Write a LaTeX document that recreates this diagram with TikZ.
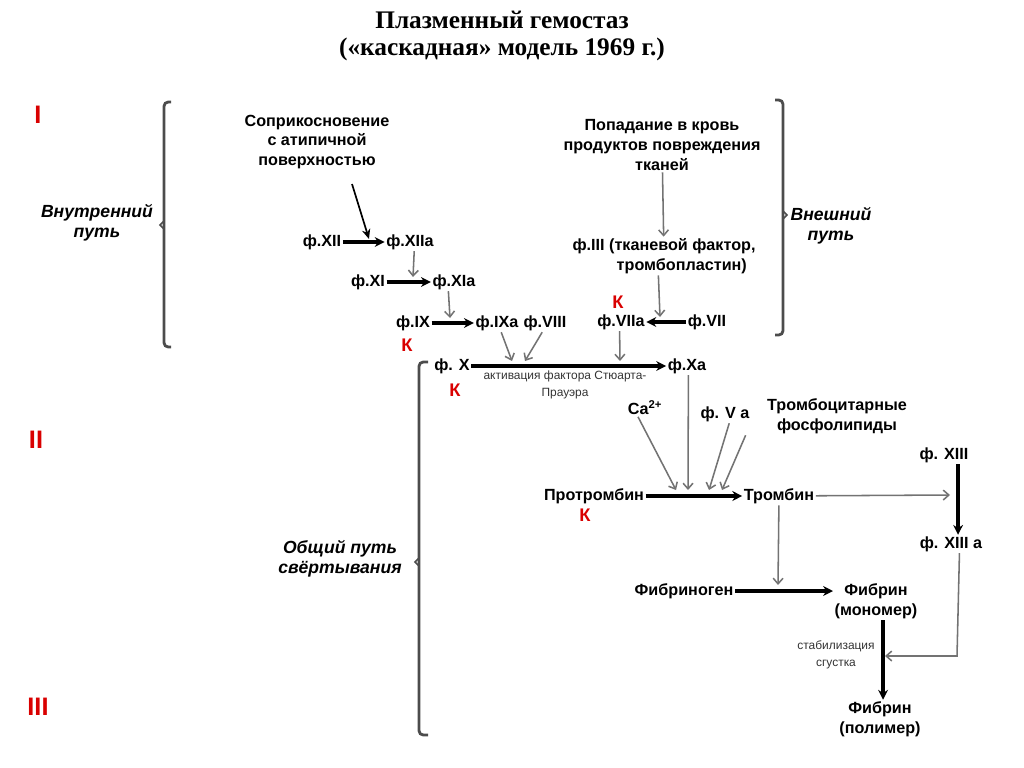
\documentclass[tikz,border=0pt]{standalone}
\usepackage{fontspec}
\setmainfont{Liberation Sans}
\newfontfamily\titlefont{Liberation Serif}
\usetikzlibrary{arrows.meta}
\begin{document}
\begin{tikzpicture}[x=0.25mm,y=-0.25mm,
  lbl/.style={font=\bfseries\fontsize{11.5}{14.2}\selectfont, inner sep=1pt, align=center},
  small/.style={font=\fontsize{8.5}{12}\selectfont, text=black!80, inner sep=1pt, align=center},
  side/.style={font=\bfseries\itshape\fontsize{12.5}{14}\selectfont, align=center, inner sep=1pt},
  roman/.style={font=\bfseries\fontsize{18}{20}\selectfont, text=red!85!black, inner sep=0pt},
  kk/.style={font=\bfseries\fontsize{13}{14}\selectfont, text=red!85!black, inner sep=0pt},
  main/.style={draw=black, line width=2.4pt, -{Stealth[length=7pt,width=7pt]}},
  cat/.style={draw=black, line width=1.2pt, -{Stealth[length=7pt,width=6pt]}},
  aux/.style={draw=black!55, line width=1.1pt, -{Straight Barb[length=4pt,width=7pt]}},
  brace/.style={draw=black!70, line width=2pt, rounded corners=3pt},
  tick/.style={draw=black!70, line width=1.2pt},
]
\useasboundingbox (0,0) rectangle (1024,767);

% title
\node[font=\titlefont\bfseries\fontsize{18}{20}\selectfont] (t1) at (502,20) {Плазменный гемостаз};
\node[font=\titlefont\bfseries\fontsize{18}{20}\selectfont] (t2) at (502,49) {(«каскадная» модель 1969 г.)};

% roman numerals
\node[roman] (r1) at (38,115) {I};
\node[roman] (r2) at (36,440) {II};
\node[roman] (r3) at (38,707) {III};

% side labels
\node[side] (in) at (97,223) {Внутренний\\путь};
\node[side] (ex) at (831,226) {Внешний\\путь};
\node[side] (co) at (340,559) {Общий путь\\свёртывания};

% braces
\draw[brace] (171,102) -- (164,102) -- (164,347) -- (171,347);
\draw[tick] (164,221) -- (160,225) -- (164,229);
\draw[brace] (775,100) -- (783,100) -- (783,335) -- (775,335);
\draw[tick] (783,211) -- (787,215) -- (783,219);
\draw[brace] (428,362) -- (419,362) -- (419,735) -- (428,735);
\draw[tick] (419,558) -- (415,562) -- (419,566);

% nodes
\node[lbl] (src1) at (317,142) {Соприкосновение\\с атипичной\\поверхностью};
\node[lbl] (src2) at (662,145) {Попадание в кровь\\продуктов повреждения\\тканей};
\node[lbl] (f12) at (322,242) {ф.XII};
\node[lbl] (f12a) at (410,242) {ф.XIIa};
\node[lbl] (f11) at (368,282) {ф.XI};
\node[lbl] (f11a) at (454,282) {ф.XIa};
\node[lbl] (f9) at (413,323) {ф.IX};
\node[lbl] (f9a) at (497,323) {ф.IXa};
\node[lbl] (f8) at (545,323) {ф.VIII};
\node[lbl] (f3) at (664,256) {ф.III (тканевой фактор,\\\hspace*{2.2em}тромбопластин)};
\node[lbl] (f7a) at (621,322) {ф.VIIa};
\node[lbl] (f7) at (707,322) {ф.VII};
\node[lbl] (f10) at (452,366) {ф. X};
\node[lbl] (f10a) at (687,366) {ф.Xa};
\node[small] (act) at (565,385) {активация фактора Стюарта-\\Прауэра};
\node[lbl] (ca) at (645,408) {Са\textsuperscript{2+}};
\node[lbl] (f5a) at (725,414) {ф. V a};
\node[lbl] (plt) at (837,416) {Тромбоцитарные\\фосфолипиды};
\node[lbl] (f13) at (944,455) {ф. XIII};
\node[lbl] (f13a) at (951,544) {ф. XIII a};
\node[lbl] (ptb) at (594,496) {Протромбин};
\node[lbl] (thb) at (779,496) {Тромбин};
\node[lbl] (fbg) at (684,591) {Фибриноген};
\node[lbl] (fbm) at (876,601) {Фибрин\\(мономер)};
\node[lbl] (fbp) at (880,719) {Фибрин\\(полимер)};
\node[small] (stab) at (836,655) {стабилизация\\сгустка};

% K marks
\node[kk] (k1) at (407,345) {К};
\node[kk] (k2) at (618,302) {К};
\node[kk] (k3) at (455,390) {К};
\node[kk] (k4) at (585,515) {К};

% main reactions
\draw[main] (f12) -- (f12a);
\draw[main] (f11) -- (f11a);
\draw[main] (f9) -- (f9a);
\draw[main] (f7) -- (f7a);
\draw[main] (f10) -- (f10a);
\draw[main] (ptb) -- (thb);
\draw[main] (fbg) -- (fbm.west |- fbg);
\draw[main] ([xshift=5]fbm.south) -- ([xshift=5]fbm.south |- fbp.north);
\draw[main] ([xshift=10]f13.south) -- ([xshift=10]f13.south |- f13a.north);

% coordinates on reaction arrows
\coordinate (s1) at (352,184);
\coordinate (m12) at (369,239);
\coordinate (m11) at (413,277);
\coordinate (m9) at (450,318);
\coordinate (m10a) at (512,361);
\coordinate (m10b) at (525,361);
\coordinate (m10c) at (620,361);
\coordinate (m7) at (660,317);
\coordinate (mp1) at (676,490);
\coordinate (mp2) at (688,490);
\coordinate (mp3) at (709,490);
\coordinate (mp4) at (722,490);
\coordinate (m13) at (950,495);
\coordinate (mf) at (778,585);
\coordinate (mfp) at (885,656);
\coordinate (c13) at (957,656);

% catalysts
\draw[cat] (s1) -- (m12);
\draw[aux] ([xshift=3]f12a.south) -- (m11);
\draw[aux] ([xshift=-4]f11a.south) -- (m9);
\draw[aux] (src2) -- (f3);
\draw[aux] ([xshift=-4]f3.south) -- (m7);
\draw[aux] ([xshift=3]f9a.south) -- (m10a);
\draw[aux] ([xshift=-2]f8.south) -- (m10b);
\draw[aux] ([xshift=-1]f7a.south) -- (m10c);
\draw[aux] ([xshift=-5]ca.south) -- (mp1);
\draw[aux] ([xshift=1]f10a.south) -- (mp2);
\draw[aux] ([xshift=3]f5a.south) -- (mp3);
\draw[aux] ([xshift=-65]plt.south) -- (mp4);
\draw[aux] (thb) -- (m13);
\draw[aux] (thb) -- (mf);
\draw[aux] ([xshift=6]f13a.south) -- (c13) -- (mfp);
\end{tikzpicture}
\end{document}
